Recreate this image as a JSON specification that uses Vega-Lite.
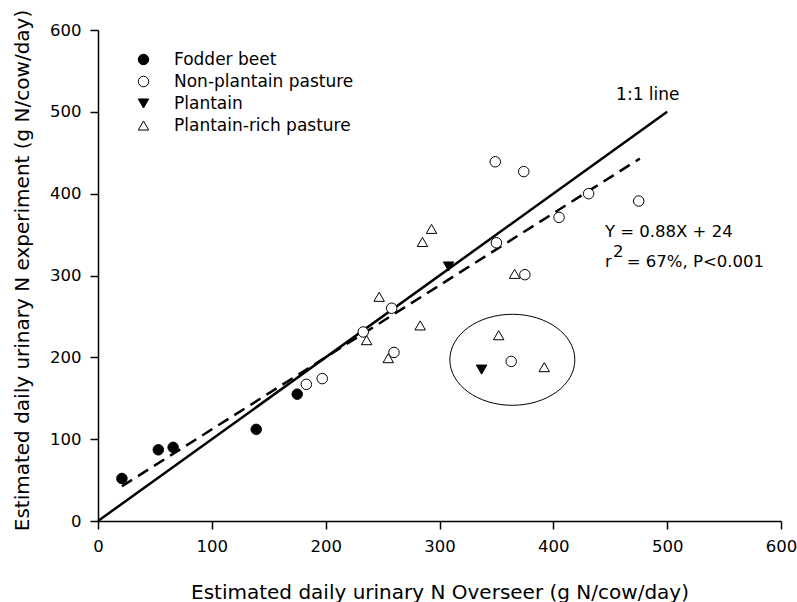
{
  "$schema": "https://vega.github.io/schema/vega-lite/v6.json",
  "autosize": {"type": "none"},
  "width": 683,
  "height": 491,
  "padding": {"left": 98, "top": 30, "right": 16, "bottom": 81},
  "config": {
    "view": {"stroke": null},
    "font": "DejaVu Sans",
    "axis": {
      "grid": false,
      "domainColor": "black",
      "domainWidth": 1.5,
      "tickColor": "black",
      "tickWidth": 1.5,
      "tickSize": 8,
      "labelColor": "black",
      "labelFontSize": 16.5,
      "labelPadding": 9,
      "labelFlush": false,
      "titleColor": "black",
      "titleFontSize": 20,
      "titleFontWeight": "normal"
    },
    "legend": {
      "labelLimit": 0,
      "title": null,
      "orient": "none",
      "legendX": 37,
      "legendY": 21,
      "padding": 0,
      "labelFontSize": 17,
      "labelColor": "black",
      "labelOffset": 22,
      "rowPadding": 4,
      "symbolSize": 110,
      "symbolStrokeWidth": 1
    }
  },
  "datasets": {
    "points": [
      {"x": 21, "y": 52, "group": "Fodder beet"},
      {"x": 53, "y": 87, "group": "Fodder beet"},
      {"x": 66, "y": 90, "group": "Fodder beet"},
      {"x": 139, "y": 112, "group": "Fodder beet"},
      {"x": 175, "y": 155, "group": "Fodder beet"},
      {"x": 183, "y": 167, "group": "Non-plantain pasture"},
      {"x": 197, "y": 174, "group": "Non-plantain pasture"},
      {"x": 233, "y": 231, "group": "Non-plantain pasture"},
      {"x": 258, "y": 260, "group": "Non-plantain pasture"},
      {"x": 260, "y": 206, "group": "Non-plantain pasture"},
      {"x": 349, "y": 439, "group": "Non-plantain pasture"},
      {"x": 374, "y": 427, "group": "Non-plantain pasture"},
      {"x": 431, "y": 400, "group": "Non-plantain pasture"},
      {"x": 405, "y": 371, "group": "Non-plantain pasture"},
      {"x": 350, "y": 340, "group": "Non-plantain pasture"},
      {"x": 375, "y": 301, "group": "Non-plantain pasture"},
      {"x": 363, "y": 195, "group": "Non-plantain pasture"},
      {"x": 475, "y": 391, "group": "Non-plantain pasture"},
      {"x": 308, "y": 311, "group": "Plantain"},
      {"x": 337, "y": 185, "group": "Plantain"},
      {"x": 293, "y": 357, "group": "Plantain-rich pasture"},
      {"x": 285, "y": 341, "group": "Plantain-rich pasture"},
      {"x": 247, "y": 274, "group": "Plantain-rich pasture"},
      {"x": 236, "y": 221, "group": "Plantain-rich pasture"},
      {"x": 283, "y": 239, "group": "Plantain-rich pasture"},
      {"x": 255, "y": 199, "group": "Plantain-rich pasture"},
      {"x": 366, "y": 302, "group": "Plantain-rich pasture"},
      {"x": 352, "y": 227, "group": "Plantain-rich pasture"},
      {"x": 392, "y": 188, "group": "Plantain-rich pasture"}
    ],
    "oneToOne": [{"x": 0, "y": 0}, {"x": 500, "y": 500}],
    "fit": [{"x": 21, "y": 42.48}, {"x": 476, "y": 442.88}],
    "ellipse": [{"x": 364, "y": 197}],
    "labelCenter": [{"x": 483, "y": 514, "text": "1:1 line"}],
    "labelLeft": [
      {"x": 445.3, "y": 347, "text": "Y = 0.88X + 24"},
      {"x": 445.3, "y": 310, "text": "r"},
      {"x": 452.5, "y": 322, "text": "2"},
      {"x": 464.5, "y": 310, "text": "= 67%, P<0.001"}
    ]
  },
  "encoding": {
    "x": {
      "field": "x",
      "type": "quantitative",
      "scale": {"domain": [0, 600], "nice": false, "zero": false},
      "axis": {
        "values": [0, 100, 200, 300, 400, 500, 600],
        "title": "Estimated daily urinary N Overseer (g N/cow/day)",
        "titleY": 77,
        "titleBaseline": "alphabetic"
      }
    },
    "y": {
      "field": "y",
      "type": "quantitative",
      "scale": {"domain": [0, 600], "nice": false, "zero": false},
      "axis": {
        "values": [0, 100, 200, 300, 400, 500, 600],
        "title": "Estimated daily urinary N experiment (g N/cow/day)",
        "titleX": -70,
        "titleY": 240,
        "titleAngle": 270,
        "titleAlign": "center",
        "titleBaseline": "alphabetic"
      }
    }
  },
  "layer": [
    {
      "data": {"name": "oneToOne"},
      "mark": {"type": "line", "color": "black", "strokeWidth": 2.5}
    },
    {
      "data": {"name": "fit"},
      "mark": {"type": "line", "color": "black", "strokeWidth": 2.5, "strokeDash": [12, 7]}
    },
    {
      "data": {"name": "ellipse"},
      "mark": {
        "type": "point",
        "shape": "M -1 0 A 1 0.728 0 1 0 1 0 A 1 0.728 0 1 0 -1 0 Z",
        "size": 15625,
        "filled": false,
        "stroke": "black",
        "strokeWidth": 1,
        "opacity": 1
      }
    },
    {
      "data": {"name": "points"},
      "mark": {"type": "point", "size": 110, "strokeWidth": 1, "opacity": 1, "filled": true},
      "encoding": {
        "shape": {
          "field": "group",
          "type": "nominal",
          "scale": {
            "domain": ["Fodder beet", "Non-plantain pasture", "Plantain", "Plantain-rich pasture"],
            "range": ["circle", "circle", "triangle-down", "triangle-up"]
          }
        },
        "fill": {
          "field": "group",
          "type": "nominal",
          "scale": {
            "domain": ["Fodder beet", "Non-plantain pasture", "Plantain", "Plantain-rich pasture"],
            "range": ["black", "white", "black", "white"]
          }
        },
        "stroke": {
          "field": "group",
          "type": "nominal",
          "scale": {
            "domain": ["Fodder beet", "Non-plantain pasture", "Plantain", "Plantain-rich pasture"],
            "range": ["black", "black", "black", "black"]
          }
        }
      }
    },
    {
      "data": {"name": "labelCenter"},
      "mark": {"type": "text", "align": "center", "baseline": "alphabetic", "fontSize": 17, "color": "black"},
      "encoding": {"text": {"field": "text"}}
    },
    {
      "data": {"name": "labelLeft"},
      "mark": {"type": "text", "align": "left", "baseline": "alphabetic", "fontSize": 16.5, "color": "black"},
      "encoding": {"text": {"field": "text"}}
    }
  ]
}
